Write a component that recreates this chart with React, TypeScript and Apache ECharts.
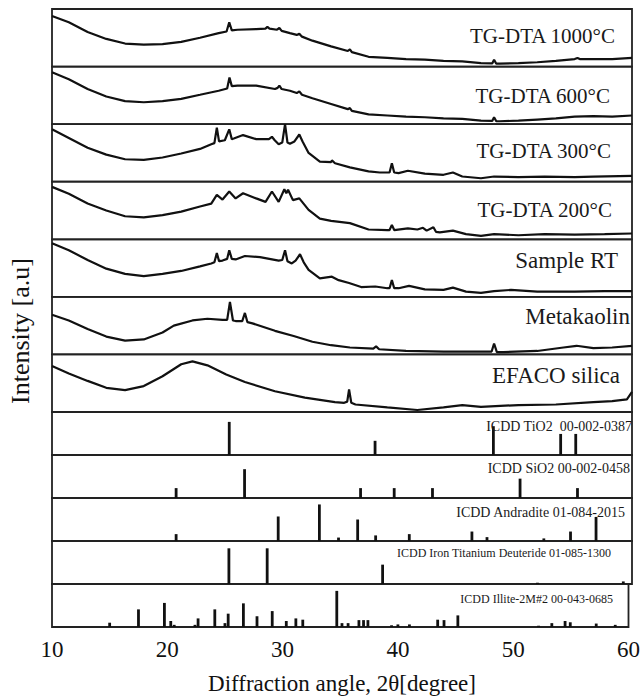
import React, { useEffect, useRef } from "react";
import * as echarts from "echarts";

// ---- XRD patterns: [2θ (deg), relative intensity within its panel (0-100)] ----
const TG1000: [number, number][] = [
  [10, 88], [11.45, 77], [13.07, 60], [14.68, 48], [16.3, 40], [17.91, 38], [19.53, 39], [21.14, 43],
  [22.76, 50], [24.37, 58], [25.05, 61], [25.28, 77], [25.5, 63], [25.99, 64], [27.6, 65], [28.4, 66],
  [28.57, 69], [28.75, 66], [29.4, 64], [29.6, 67], [29.8, 62], [30.51, 58], [31.1, 55], [31.32, 57],
  [31.55, 52], [32.45, 45], [34.06, 35], [35.5, 27], [35.68, 30], [35.85, 25], [37.29, 17], [38.91, 15],
  [40.52, 13], [42.14, 12], [43.75, 10], [45.37, 9], [46.98, 6], [47.95, 5.5], [48.11, 12], [48.3, 5],
  [48.6, 5], [50.21, 6], [51.83, 7.5], [53.44, 10], [55.06, 13], [55.3, 15], [55.5, 13], [56.67, 13],
  [58.29, 13], [60, 15],
];
const TG600: [number, number][] = [
  [10, 90], [11.45, 78], [13.07, 61], [14.68, 48], [16.3, 40], [17.91, 38], [19.53, 40], [21.14, 44],
  [22.76, 51], [24.37, 58], [25.1, 62], [25.3, 81], [25.5, 66], [25.99, 67], [27.6, 67], [29.22, 61],
  [29.45, 63], [29.6, 67], [29.8, 61], [30.51, 58], [31.1, 54], [31.32, 57], [31.55, 51], [32.45, 45],
  [34.06, 35], [35.5, 26], [35.68, 28], [35.85, 23], [37.29, 17], [38.91, 15], [40.52, 13], [42.14, 12],
  [43.75, 10], [45.37, 9], [46.98, 6], [47.95, 5.5], [48.11, 12], [48.3, 5], [48.6, 5], [50.21, 6],
  [51.83, 8], [53.44, 10], [55.06, 13], [56.67, 14], [58.29, 13], [60, 15],
];
const TG300: [number, number][] = [
  [10, 91], [11.45, 76], [13.07, 59], [14.68, 47], [16.3, 39], [17.91, 38], [19.53, 42], [21.14, 49],
  [22.76, 57], [23.73, 65], [24.0, 67], [24.21, 94], [24.4, 70], [24.9, 72], [25.28, 91], [25.5, 74],
  [25.67, 75], [26.47, 81], [27.6, 74], [28.7, 74], [28.96, 78], [29.2, 72], [29.54, 65], [29.85, 68],
  [30.09, 100], [30.3, 68], [30.51, 66], [30.9, 70], [31.32, 82], [31.6, 70], [32.12, 50], [33.09, 35],
  [34.06, 34], [34.13, 37], [34.4, 32], [35.68, 25], [37.29, 18], [38.26, 16], [39.1, 16], [39.3, 32],
  [39.5, 16], [39.88, 15], [40.68, 19], [42.14, 14], [43.75, 12], [44.56, 16], [45.37, 9], [46.98, 6],
  [48.11, 9], [50.21, 8], [52.47, 9], [55.06, 8], [56.67, 9], [60, 10],
];
const TG200: [number, number][] = [
  [10, 91], [11.45, 79], [13.07, 62], [14.68, 50], [16.3, 40], [17.91, 38], [19.53, 42], [21.14, 48],
  [22.76, 57], [23.73, 62], [24.21, 77], [24.7, 69], [25.28, 83], [25.83, 71], [26.47, 80], [27.6, 71],
  [28.41, 65], [28.96, 83], [29.54, 65], [30.03, 87], [30.2, 80], [30.35, 86], [30.77, 68], [31.32, 71],
  [32.12, 51], [33.09, 36], [34.06, 32], [35.68, 28], [37.29, 17], [38.91, 16], [39.1, 16], [39.3, 25],
  [39.5, 16], [40.68, 19], [41.5, 17], [41.98, 20], [42.3, 15], [42.88, 21], [43.1, 13], [43.43, 12],
  [44.56, 15], [45.69, 9], [46.98, 6], [48.11, 9], [50.21, 7], [52.47, 9], [55.06, 8], [57.64, 9], [60, 10],
];
const SAMPLE_RT: [number, number][] = [
  [10, 93], [11.45, 81], [13.07, 64], [14.68, 49], [16.3, 40], [17.91, 36], [19.53, 40], [21.14, 45],
  [22.76, 53], [23.73, 58], [24.0, 60], [24.21, 76], [24.4, 62], [24.7, 63], [25.1, 66], [25.28, 81],
  [25.5, 66], [25.83, 65], [26.63, 71], [27.93, 69], [29.54, 63], [29.85, 64], [30.09, 81], [30.3, 62],
  [30.67, 58], [31.0, 63], [31.38, 74], [31.7, 60], [32.12, 47], [33.09, 32], [34.13, 35], [34.71, 29],
  [35.61, 24], [36.65, 17], [37.87, 18], [38.91, 15], [39.1, 15], [39.3, 29], [39.5, 15], [39.88, 15],
  [40.78, 19], [42.14, 13], [43.75, 12], [44.56, 16], [45.69, 9], [46.98, 7], [48.11, 10], [49.57, 12],
  [51.83, 9], [55.06, 9], [57.64, 10], [60, 10],
];
const METAKAOLIN: [number, number][] = [
  [10, 69], [11.45, 59], [13.07, 44], [14.68, 31], [16.3, 24], [17.91, 26], [19.53, 38], [20.5, 50],
  [22.11, 59], [23.4, 62], [24.7, 60], [25.1, 60], [25.34, 91], [25.6, 59], [25.83, 58], [26.4, 58],
  [26.63, 72], [26.85, 56], [27.28, 54], [29.22, 41], [30.83, 32], [32.45, 22], [34.06, 16], [35.68, 12],
  [37.7, 10], [37.94, 14], [38.2, 9], [40.52, 6], [43.75, 5], [46.98, 5], [47.9, 5], [48.11, 19],
  [48.35, 4], [48.92, 4], [51.83, 6], [54.09, 12], [55.22, 15], [56.67, 11], [58.29, 12], [60, 15],
];
const EFACO: [number, number][] = [
  [10, 80], [11.45, 67], [13.07, 54], [14.68, 42], [16.3, 38], [17.91, 45], [19.53, 62], [21.14, 83],
  [22.11, 88], [23.4, 81], [25.02, 65], [26.63, 52], [29.22, 36], [31.8, 25], [34.39, 17], [35.19, 16],
  [35.45, 18], [35.61, 39], [35.8, 16], [36.16, 13], [38.91, 8], [41.49, 3.5], [43.75, 8], [45.37, 12],
  [46.98, 9], [50.21, 12], [53.44, 13], [56.67, 17], [58.29, 19], [59.56, 22], [60, 35],
];

// ---- ICDD reference sticks: [2θ, relative height in panel (0-1)] ----
const TIO2: [number, number][] = [[25.28, 0.77], [37.85, 0.33], [48.05, 0.67], [53.85, 0.49], [55.15, 0.49]];
const SIO2: [number, number][] = [
  [20.7, 0.23], [26.6, 0.67], [36.6, 0.23], [39.5, 0.23], [42.8, 0.23], [50.35, 0.45], [55.3, 0.23],
];
const ANDRADITE: [number, number][] = [
  [20.7, 0.16], [29.5, 0.57], [33.05, 0.85], [34.7, 0.08], [36.35, 0.5], [37.9, 0.13], [40.8, 0.16],
  [46.2, 0.22], [47.5, 0.09], [52.4, 0.06], [54.7, 0.22], [56.9, 0.56],
];
const FETID: [number, number][] = [[25.25, 0.83], [28.55, 0.83], [38.5, 0.45], [51.85, 0.03], [59.25, 0.06]];
const ILLITE: [number, number][] = [
  [15.0, 0.1], [17.5, 0.41], [19.75, 0.56], [20.3, 0.14], [20.6, 0.05], [22.4, 0.05], [22.67, 0.2],
  [24.12, 0.41], [25.0, 0.09], [25.28, 0.31], [26.6, 0.55], [27.78, 0.25], [29.1, 0.37], [30.32, 0.14],
  [31.15, 0.2], [31.75, 0.17], [34.7, 0.84], [35.15, 0.09], [35.68, 0.09], [36.62, 0.16], [37.02, 0.16],
  [37.4, 0.16], [39.45, 0.04], [40.0, 0.06], [41.0, 0.06], [43.45, 0.17], [44.0, 0.16], [45.2, 0.27],
  [52.2, 0.03], [53.35, 0.09], [54.5, 0.14], [54.95, 0.11], [57.2, 0.08], [58.85, 0.05],
];

const XRD_SERIES = [TG1000, TG600, TG300, TG200, SAMPLE_RT, METAKAOLIN, EFACO];
const XRD_LABELS = ["TG-DTA 1000°C", "TG-DTA 600°C", "TG-DTA 300°C", "TG-DTA 200°C", "Sample RT", "Metakaolin", "EFACO silica"];
const ICDD_SERIES = [TIO2, SIO2, ANDRADITE, FETID, ILLITE];
const ICDD_LABELS = [
  "ICDD TiO2  00-002-0387",
  "ICDD SiO2 00-002-0458",
  "ICDD Andradite 01-084-2015",
  "ICDD Iron Titanium Deuteride 01-085-1300",
  "ICDD Illite-2M#2 00-043-0685",
];
const X_TICKS_MIN = 10;
const X_TICKS_MAX = 60;
const X_TICK_STEP = 10;

export default function App() {
  const ref = useRef<HTMLDivElement>(null);
  useEffect(() => {
    if (!ref.current) return;
    const chart = echarts.init(ref.current, null, { renderer: "svg" });
    const FONT = "Liberation Serif";
    const LEFT = 52;
    const WIDTH = 580;
    const RIGHT_EDGE = LEFT + WIDTH;
    const XRD_TOP = 9;
    const XRD_H = 57.57;
    const ICDD_TOP = 412;
    const ICDD_H = 43;

    const grids: any[] = [];
    const xAxes: any[] = [];
    const yAxes: any[] = [];
    const series: any[] = [];
    const graphics: any[] = [];
    const total = XRD_SERIES.length + ICDD_SERIES.length;

    const xrdLabelPos = [
      { dy: 27, right: 615, size: 21 },
      { dy: 29, right: 610, size: 21 },
      { dy: 27, right: 611, size: 21 },
      { dy: 28, right: 612, size: 21 },
      { dy: 21, right: 618, size: 23 },
      { dy: 20, right: 630, size: 23 },
      { dy: 21, right: 620, size: 23 },
    ];
    const icddLabelPos = [
      { dy: 14, right: 632, size: 14 },
      { dy: 13, right: 630, size: 14 },
      { dy: 14, right: 625, size: 14 },
      { dy: 12, right: 611, size: 12 },
      { dy: 15, right: 613, size: 12 },
    ];

    for (let i = 0; i < total; i++) {
      const isXrd = i < XRD_SERIES.length;
      const j = isXrd ? i : i - XRD_SERIES.length;
      const top = isXrd ? XRD_TOP + i * XRD_H : ICDD_TOP + j * ICDD_H;
      const height = isXrd ? XRD_H : ICDD_H;
      const isLast = i === total - 1;
      grids.push({
        left: LEFT,
        width: WIDTH,
        top,
        height,
        show: true,
        borderColor: "#222",
        borderWidth: 1.8,
        backgroundColor: "transparent",
      });
      xAxes.push({
        type: "value",
        gridIndex: i,
        min: X_TICKS_MIN,
        max: X_TICKS_MAX,
        interval: X_TICK_STEP,
        show: isLast,
        axisLine: { show: false },
        axisTick: { show: false },
        splitLine: { show: false },
        axisLabel: {
          show: isLast,
          fontSize: 23,
          fontFamily: FONT,
          color: "#111",
          margin: 11,
          showMinLabel: true,
          showMaxLabel: true,
        },
      });
      yAxes.push({
        type: "value",
        gridIndex: i,
        min: 0,
        max: isXrd ? 100 : 1,
        show: false,
      });
      if (isXrd) {
        series.push({
          type: "line",
          xAxisIndex: i,
          yAxisIndex: i,
          data: XRD_SERIES[i],
          showSymbol: false,
          symbol: "none",
          lineStyle: { color: "#111", width: 2.2 },
          silent: true,
        });
        const lp = xrdLabelPos[i];
        graphics.push({
          type: "text",
          x: lp.right,
          y: top + lp.dy,
          style: {
            text: XRD_LABELS[i],
            fontSize: lp.size,
            fontFamily: FONT,
            fill: "#1a1a1a",
            align: "right",
            verticalAlign: "middle",
          },
          z: 10,
        });
      } else {
        series.push({
          type: "bar",
          xAxisIndex: i,
          yAxisIndex: i,
          data: ICDD_SERIES[j],
          barWidth: 2.8,
          itemStyle: { color: "#111" },
          silent: true,
        });
        const lp = icddLabelPos[j];
        graphics.push({
          type: "text",
          x: lp.right,
          y: top + lp.dy,
          style: {
            text: ICDD_LABELS[j],
            fontSize: lp.size,
            fontFamily: FONT,
            fill: "#1a1a1a",
            align: "right",
            verticalAlign: "middle",
          },
          z: 10,
        });
      }
    }

    graphics.push({
      type: "text",
      x: (LEFT + RIGHT_EDGE) / 2,
      y: 683,
      style: {
        text: "Diffraction angle, 2θ[degree]",
        fontSize: 23,
        fontFamily: FONT,
        fill: "#111",
        align: "center",
        verticalAlign: "middle",
      },
    });
    graphics.push({
      type: "text",
      x: 20,
      y: 331,
      rotation: Math.PI / 2,
      style: {
        text: "Intensity [a.u]",
        fontSize: 26,
        fontFamily: FONT,
        fill: "#111",
        align: "center",
        verticalAlign: "middle",
      },
    });

    chart.setOption({
      animation: false,
      backgroundColor: "#ffffff",
      grid: grids,
      xAxis: xAxes,
      yAxis: yAxes,
      series,
      graphic: graphics,
    });
    return () => chart.dispose();
  }, []);
  return (
    <div
      ref={ref}
      style={{ position: "fixed", left: 0, top: 0, width: 643, height: 697 }}
    />
  );
}
